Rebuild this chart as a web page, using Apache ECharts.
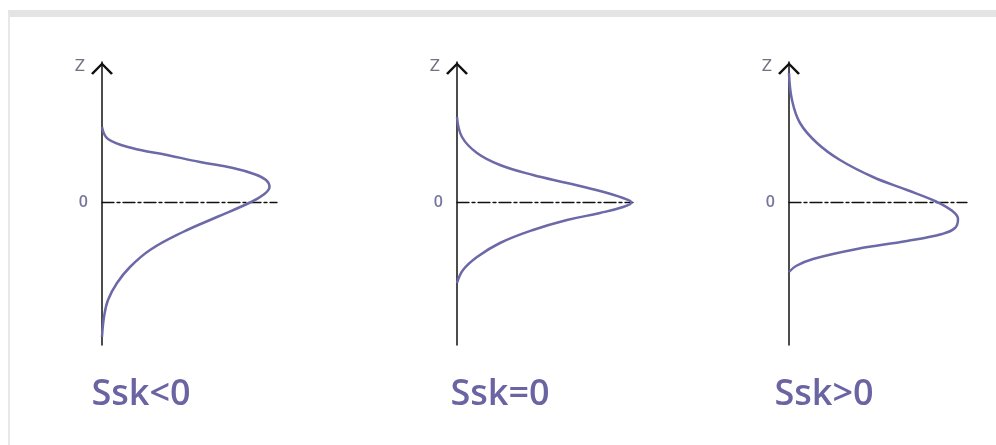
<!DOCTYPE html>
<html>
<head>
<meta charset="utf-8">
<script src="https://cdn.jsdelivr.net/npm/echarts@6/dist/echarts.min.js"></script>
<style>
  html, body { margin: 0; padding: 0; background: #fff; }
  .frame {
    position: absolute; left: 8px; top: 10px; width: 988px; height: 435px;
    border-top: 7px solid #e4e4e4; border-left: 2px solid #e8e8e8; box-sizing: border-box;
  }
  #chart { position: absolute; left: 0; top: 0; width: 996px; height: 445px; }
</style>
</head>
<body>
<div class="frame"></div>
<div id="chart"></div>
<script>
// curve points as [density, z]
var negSkew = [[0, 0.75], [0.06, 0.63], [0.3, 0.54], [0.65, 0.47], [0.98, 0.4],
  [1.31, 0.34], [1.52, 0.28], [1.64, 0.22], [1.675, 0.15], [1.61, 0.07], [1.47, -0.01],
  [1.15, -0.15], [0.81, -0.3], [0.48, -0.48], [0.28, -0.65], [0.15, -0.81], [0.06, -0.98],
  [0.02, -1.15], [0, -1.35]]
var zeroSkew = [[0, 0.85], [0.05, 0.65], [0.2, 0.49], [0.43, 0.37], [0.76, 0.27], [1.1, 0.19],
  [1.43, 0.11], [1.66, 0.04], [1.745, -0.005], [1.66, -0.05], [1.43, -0.11], [1.1, -0.18],
  [0.76, -0.28], [0.43, -0.41], [0.2, -0.55], [0.06, -0.68], [0, -0.81]]
var posSkew = [[0, 1.29], [0.03, 1.02], [0.11, 0.79], [0.28, 0.59], [0.51, 0.42], [0.84, 0.25],
  [1.18, 0.12], [1.47, 0.005], [1.62, -0.08], [1.69, -0.17], [1.66, -0.26], [1.53, -0.32],
  [1.18, -0.39], [0.68, -0.47], [0.24, -0.57], [0.07, -0.64], [0, -0.7]]
var captions = ['Ssk<0', 'Ssk=0', 'Ssk>0']
var xMax = [1.75, 1.76, 1.78]

var curves = [negSkew, zeroSkew, posSkew]
var lefts = [102, 457, 789]
var widths = [175, 176, 178]
var captionX = [141, 500, 824]

var chart = echarts.init(document.getElementById('chart'))

var grids = []
var xAxes = []
var yAxes = []
var series = []
curves.forEach(function (pts, i) {
  grids.push({ left: lefts[i], top: 62, width: widths[i], height: 283 })
  xAxes.push({
    type: 'value', gridIndex: i, min: 0, max: xMax[i],
    axisLine: { show: true, onZero: true, lineStyle: { color: '#111', width: 1.3, type: [12, 3, 3, 3] } },
    axisTick: { show: false }, axisLabel: { show: false }, splitLine: { show: false }
  })
  yAxes.push({
    type: 'value', gridIndex: i, min: -1.43, max: 1.4,
    name: 'Z', nameLocation: 'end', nameGap: -13,
    nameTextStyle: { color: '#727280', fontSize: 15, align: 'right', padding: [0, 17, 0, 0], fontFamily: 'DejaVu Sans' },
    axisLine: {
      show: true, onZero: false,
      lineStyle: { color: '#111', width: 1.5 },
      symbol: ['none', 'path://M0,10 L10,0 L20,10 L18.2,11.4 L10,3 L1.8,11.4 Z'],
      symbolSize: [22, 13], symbolOffset: [0, -6.5]
    },
    axisTick: { show: false },
    splitLine: { show: false },
    axisLabel: {
      margin: 14, color: '#77749e', fontSize: 16, fontFamily: 'Open Sans', fontWeight: 600,
      formatter: function (v) { return v === 0 ? '0' : '' }
    }
  })
  series.push({
    type: 'line', xAxisIndex: i, yAxisIndex: i, data: pts,
    smooth: 0.4, showSymbol: false, clip: false,
    lineStyle: { color: '#6c69a8', width: 2.5 }
  })
})

chart.setOption({
  animation: false,
  grid: grids,
  xAxis: xAxes,
  yAxis: yAxes,
  series: series,
  graphic: captions.map(function (t, i) {
    return {
      type: 'text', x: captionX[i], y: 395,
      style: { text: t, align: 'center', verticalAlign: 'middle', fill: '#6a64a2',
        fontSize: 36, fontWeight: 600, fontFamily: 'Open Sans' }
    }
  })
})
</script>
</body>
</html>
